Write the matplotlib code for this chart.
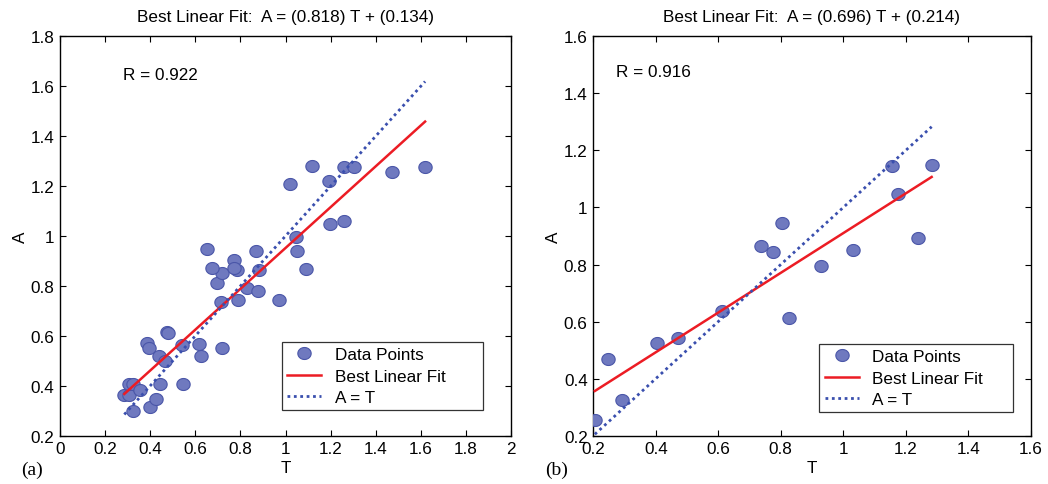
import matplotlib
matplotlib.use("Agg")
import matplotlib.pyplot as plt
from matplotlib.path import Path
import numpy as np

plt.rcParams['font.family'] = ['Liberation Sans', 'DejaVu Sans']

# --- data ---

# (a) training set
T_a = [0.285, 0.306, 0.306, 0.325, 0.355, 0.325, 0.399, 0.424, 0.443, 0.544,
       0.384, 0.396, 0.439, 0.466, 0.476, 0.540, 0.618, 0.625, 0.717, 0.713,
       0.791, 0.698, 0.720, 0.673, 0.652, 0.773, 0.784, 0.831, 0.879, 0.884,
       0.868, 0.971, 1.020, 1.045, 1.052, 1.090, 1.116, 1.193, 1.199, 1.259,
       1.259, 1.305, 1.474, 1.619, 0.480, 0.770]
A_a = [0.365, 0.365, 0.408, 0.408, 0.385, 0.297, 0.315, 0.348, 0.408, 0.408,
       0.571, 0.552, 0.521, 0.501, 0.617, 0.564, 0.568, 0.521, 0.552, 0.735,
       0.744, 0.812, 0.851, 0.872, 0.947, 0.904, 0.865, 0.793, 0.781, 0.865,
       0.941, 0.744, 1.208, 0.995, 0.941, 0.868, 1.279, 1.219, 1.048, 1.059,
       1.277, 1.277, 1.256, 1.277, 0.612, 0.870]
slope_a, icpt_a, R_a = 0.818, 0.134, 0.922

# (b) test set
T_b = [0.205, 0.248, 0.293, 0.403, 0.470, 0.613, 0.737, 0.774, 0.803, 0.826,
       0.929, 1.032, 1.155, 1.176, 1.238, 1.283]
A_b = [0.256, 0.470, 0.324, 0.524, 0.543, 0.636, 0.864, 0.845, 0.944, 0.613,
       0.795, 0.851, 1.146, 1.047, 0.893, 1.150]
slope_b, icpt_b, R_b = 0.696, 0.214, 0.916

xticks_a = np.arange(0, 2.01, 0.2)
yticks_a = np.arange(0.2, 1.81, 0.2)
xticks_b = np.arange(0.2, 1.61, 0.2)
yticks_b = np.arange(0.2, 1.61, 0.2)

# slightly flattened circle like the original markers
t = np.linspace(0, 2 * np.pi, 40)
oval = Path(np.column_stack([np.cos(t), 0.9 * np.sin(t)]), closed=True)

dot_face = '#6f79bf'
dot_edge = '#4a56a8'
fit_col = '#ec1c24'
ident_col = '#3a4fae'
fs = 12.3


def draw_panel(ax, T, A, slope, icpt, R, xticks, yticks, rpos, legbox,
               tag, tagx):
    T = np.array(T)
    A = np.array(A)
    ts = np.sort(T)
    ax.plot(T, A, linestyle='none', marker=oval, markersize=9.6,
            markerfacecolor=dot_face, markeredgecolor=dot_edge,
            markeredgewidth=0.8, label='Data Points', zorder=3)
    ax.plot(ts, slope * ts + icpt, color=fit_col, lw=1.8,
            label='Best Linear Fit', zorder=4)
    ax.plot(ts, ts, color=ident_col, lw=2.0, linestyle=(0, (1, 1.3)),
            label='A = T', zorder=4)

    ax.set_xlim(xticks[0], xticks[-1])
    ax.set_ylim(yticks[0], yticks[-1])
    ax.set_xticks(xticks)
    ax.set_yticks(yticks)
    ax.set_xticklabels(['%g' % round(v, 1) for v in xticks])
    ax.set_yticklabels(['%g' % round(v, 1) for v in yticks])
    ax.tick_params(direction='in', top=True, right=True, length=4,
                   width=0.8, labelsize=fs, pad=4)
    for s in ax.spines.values():
        s.set_linewidth(1.0)

    ax.set_xlabel('T', fontsize=fs, labelpad=3)
    ax.set_ylabel('A', fontsize=fs, labelpad=2)
    ax.set_title('Best Linear Fit:  A = (%.3f) T + (%.3f)' % (slope, icpt),
                 fontsize=fs, pad=11)
    ax.text(rpos[0], rpos[1], 'R = %.3f' % R, fontsize=fs, va='center')

    leg = ax.legend(loc='lower left', bbox_to_anchor=legbox, mode='expand',
                    fontsize=fs, frameon=True, fancybox=False,
                    edgecolor='black', handlelength=2.0, borderpad=0.3,
                    labelspacing=0.38, handletextpad=0.8, borderaxespad=0)
    leg.get_frame().set_linewidth(0.9)

    fig.text(tagx, 0.03, tag, fontsize=14, family='Liberation Serif',
             ha='center', va='center')


fig = plt.figure(figsize=(10.48, 4.85), dpi=100)
ax1 = fig.add_axes([0.0573, 0.0996, 0.4303, 0.8235])
ax2 = fig.add_axes([0.5661, 0.0996, 0.4174, 0.8235])

draw_panel(ax1, T_a, A_a, slope_a, icpt_a, R_a, xticks_a, yticks_a,
           (0.279, 1.648), (0.492, 0.064, 0.446, 0.173), '(a)', 32 / 1048)
draw_panel(ax2, T_b, A_b, slope_b, icpt_b, R_b, xticks_b, yticks_b,
           (0.272, 1.475), (0.517, 0.0586, 0.4435, 0.173), '(b)', 557 / 1048)

fig.savefig('out.png', dpi=100)
